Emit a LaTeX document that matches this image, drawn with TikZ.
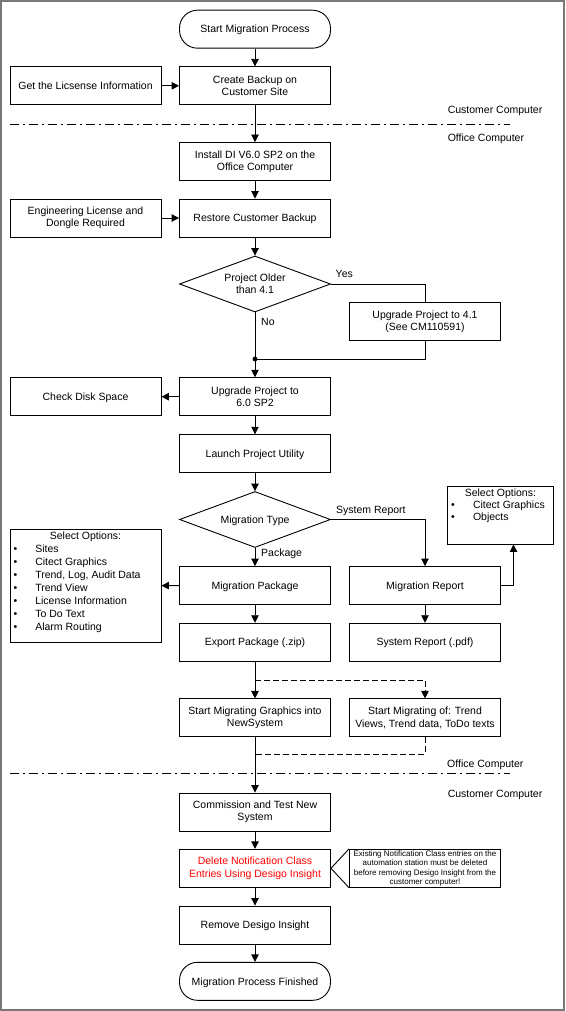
\documentclass[tikz,border=0pt]{standalone}
\usepackage{fontspec}
\setmainfont{Liberation Sans}
\usetikzlibrary{shapes.geometric,arrows.meta,calc}
\definecolor{framegray}{RGB}{120,120,120}
\definecolor{notered}{RGB}{255,0,0}
\begin{document}
\begin{tikzpicture}[x=1pt,y=-1pt,
  every node/.style={font=\fontsize{10.5}{12.4}\selectfont},
  box/.style={draw, line width=0.9pt, minimum width=151pt, minimum height=38pt, inner sep=2pt, align=center},
  one/.style={text height=7.5pt, text depth=0pt},
  obox/.style={draw, line width=0.9pt, inner sep=0pt},
  term/.style={box, one, rounded corners=18pt},
  dec/.style={draw, line width=0.9pt, shape=diamond, aspect=2.7, inner sep=0pt, minimum width=151pt, minimum height=56pt, align=center},
  conn/.style={line width=0.9pt},
  tip/.style={-{Triangle[length=7.5pt,width=7.5pt]}},
  arr/.style={conn, tip},
  lab/.style={inner sep=0pt, anchor=west, text height=7.5pt, text depth=0pt},
  sepline/.style={line width=0.9pt, dash pattern=on 9pt off 4pt on 2pt off 4pt},
  dsh/.style={line width=0.9pt, dash pattern=on 6pt off 3pt}
]
\useasboundingbox (0,0) rectangle (565,1011);
\draw[framegray, line width=2pt] (1,1) rectangle (564,1010);

% separators
\draw[sepline] (10,124) -- (510,124);
\draw[sepline] (10,773.7) -- (510,773.7);

% nodes
\node[term] (start) at (255,29.2) {Start Migration Process};
\node[box] (create) at (255,85.8) {Create Backup on\\Customer Site};
\node[box, one] (lic) at (85.5,85.8) {Get the Licsense Information};
\node[box] (install) at (255,161.5) {Install DI V6.0 SP2 on the\\Office Computer};
\node[box] (eng) at (85.5,218) {Engineering License and\\Dongle Required};
\node[box, one] (restore) at (255,218) {Restore Customer Backup};
\node[dec] (d1) at (255,284) {Project Older\\than 4.1};
\node[box] (up41) at (425,321.5) {Upgrade Project to 4.1\\(See CM110591)};
\coordinate (j1) at (255,359);
\node[box] (up60) at (255,396.7) {Upgrade Project to\\6.0 SP2};
\node[box, one] (disk) at (85.5,396.7) {Check Disk Space};
\node[box, one] (launch) at (255,453.7) {Launch Project Utility};
\node[dec, one] (d2) at (255,519.5) {Migration Type};
\node[obox] (selR) at (500.4,515) {\parbox[c][58pt][t]{105.6pt}{\fontsize{10.5}{12.4}\selectfont\vspace*{2.5pt}\centering Select Options:\par\raggedright\leftskip=3.4pt
\makebox[22pt][l]{\textbullet}Citect Graphics\par
\makebox[22pt][l]{\textbullet}Objects\par}};
\node[obox] (selL) at (85.5,585.7) {\parbox[c][113.3pt][t]{151pt}{\fontsize{10.5}{13}\selectfont\vspace*{2.5pt}\centering Select Options:\par\raggedright\leftskip=3.7pt
\makebox[21.6pt][l]{\textbullet}Sites\par
\makebox[21.6pt][l]{\textbullet}Citect Graphics\par
\makebox[21.6pt][l]{\textbullet}Trend, Log, Audit Data\par
\makebox[21.6pt][l]{\textbullet}Trend View\par
\makebox[21.6pt][l]{\textbullet}License Information\par
\makebox[21.6pt][l]{\textbullet}To Do Text\par
\makebox[21.6pt][l]{\textbullet}Alarm Routing\par}};
\node[box, one] (mpkg) at (255,585.5) {Migration Package};
\node[box, one] (mrep) at (425,585.5) {Migration Report};
\node[box, one] (export) at (255,642.2) {Export Package (.zip)};
\node[box, one] (sysrep) at (425,642.2) {System Report (.pdf)};
\node[box] (graph) at (255,717.9) {Start Migrating Graphics into\\NewSystem};
\node[box] (trend) at (425,717.9) {Start Migrating of: Trend\\Views, Trend data, ToDo texts};
\node[box] (comm) at (255,812) {Commission and Test New\\System};
\node[box, text=notered] (del) at (255,868.3) {Delete Notification Class\\Entries Using Desigo Insight};
\node[box, inner sep=0pt, font=\fontsize{8}{9.3}\selectfont] (note) at (425,868.3) {Existing Notification Class entries on the\\automation station must be deleted\\before removing Desigo Insight from the\\customer computer!};
\node[box, one] (remove) at (255,925) {Remove Desigo Insight};
\node[term] (finish) at (255,981.3) {Migration Process Finished};

% labels
\node[lab] (lcc1) at (447.6,110) {Customer Computer};
\node[lab] (loc1) at (447.6,137.7) {Office Computer};
\node[lab] (loc2) at (447,764) {Office Computer};
\node[lab] (lcc2) at (447.6,794) {Customer Computer};
\node[lab] (lyes) at (335.5,274) {Yes};
\node[lab] (lno) at (261,321.3) {No};
\node[lab] (lsys) at (336,509.3) {System Report};
\node[lab] (lpkg) at (261,552.7) {Package};

% connectors
\draw[arr] (start) -- (create);
\draw[arr] (lic) -- (create);
\draw[arr] (create) -- (install);
\draw[arr] (install) -- (restore);
\draw[arr] (eng) -- (restore);
\draw[arr] (restore) -- (d1);
\draw[conn] (d1.east) -| (up41.north);
\draw[conn] (up41.south) |- (j1);
\draw[arr] (d1.south) -- (up60.north);
\fill (j1) circle (2.4pt);
\draw[arr] (up60) -- (disk);
\draw[arr] (up60) -- (launch);
\draw[arr] (launch) -- (d2);
\draw[arr] (d2.east) -| (mrep.north);
\draw[arr] (d2.south) -- (mpkg.north);
\draw[arr] (mpkg) -- (selL);
\coordinate (rb) at (513.5,585.5);
\draw[arr] (mrep.east) -- (rb) -- (rb |- selR.south);
\draw[arr] (mpkg) -- (export);
\draw[arr] (mrep) -- (sysrep);
\draw[arr] (export) -- (graph);
\coordinate (ds) at (255,680);
\coordinate (dm) at (255,754.3);
\draw[dsh, tip] (ds) -| (trend.north);
\draw[dsh] (trend.south) |- (dm);
\draw[arr] (graph) -- (comm);
\draw[arr] (comm) -- (del);
\draw[arr] (del) -- (remove);
\draw[arr] (remove) -- (finish);
\draw[conn] (note.north west) -- (del.east) -- (note.south west);
\end{tikzpicture}
\end{document}
